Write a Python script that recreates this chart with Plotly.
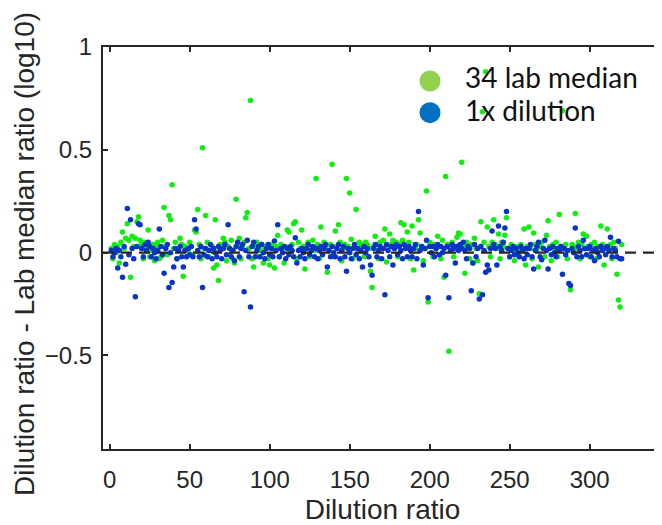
import plotly.graph_objects as go

# x positions (sample index)
x_idx = list(range(1, 321))

# 34 lab median series (green)
green_vals = [
    0.02, -0.03, 0.04, 0.0, 0.03, -0.05, 0.05, 0.10, 0.02, 0.07, 0.14, 0.06, -0.12, 0.08, 0.03, 0.07, 0.15, 0.175, 0.06, 0.04,
    -0.03, 0.05, 0.02, 0.11, -0.02, 0.01, 0.04, -0.04, 0.03, 0.05, -0.03, -0.02, 0.06, 0.22, 0.03, -0.01, 0.18, 0.16, 0.33, 0.02,
    0.05, -0.03, 0.01, 0.07, 0.04, -0.115, 0.03, -0.02, 0.01, 0.05, 0.03, -0.01, 0.11, 0.10, 0.21, 0.04, -0.03, 0.51, 0.02, 0.18,
    0.05, -0.02, 0.01, 0.03, -0.075, 0.16, -0.06, -0.135, 0.04, 0.02, 0.07, 0.05, -0.04, 0.03, -0.01, 0.06, -0.03, -0.05, 0.26, 0.04,
    0.07, -0.03, 0.02, 0.05, 0.17, 0.195, 0.02, 0.74, -0.03, -0.07, 0.03, 0.05, -0.02, 0.01, 0.04, -0.05, 0.02, 0.03, -0.03, -0.06,
    0.04, 0.02, -0.075, 0.03, 0.083, -0.02, 0.04, 0.02, -0.05, 0.03, 0.11, 0.10, 0.01, 0.04, 0.14, 0.15, -0.03, 0.05, 0.02, 0.11,
    0.03, -0.08, 0.02, 0.05, -0.02, 0.03, 0.06, 0.01, 0.36, 0.04, -0.03, 0.125, 0.02, 0.05, 0.03, -0.095, 0.01, 0.04, 0.43, -0.02,
    0.105, 0.03, 0.135, 0.05, -0.04, 0.02, 0.04, 0.36, 0.03, 0.29, 0.065, -0.03, 0.04, 0.21, 0.02, 0.05, 0.04, 0.03, -0.02, 0.05,
    0.04, 0.02, -0.09, -0.17, 0.03, 0.08, 0.04, -0.03, 0.05, 0.02, 0.06, 0.115, -0.045, 0.03, 0.09, 0.04, 0.06, 0.02, 0.05, -0.02,
    0.04, 0.145, 0.06, 0.135, 0.03, 0.10, 0.05, -0.03, 0.13, -0.085, 0.02, 0.04, 0.16, 0.095, 0.03, -0.04, 0.02, 0.30, -0.24, 0.05,
    0.03, -0.02, 0.04, 0.02, 0.08, 0.03, -0.03, 0.06, -0.12, 0.37, 0.04, -0.48, 0.02, 0.05, -0.02, 0.03, 0.075, 0.095, 0.09, 0.44,
    0.03, -0.10, 0.05, 0.02, -0.03, 0.04, -0.05, 0.07, 0.02, -0.04, -0.20, 0.15, 0.685, 0.05, 0.88, 0.125, 0.03, -0.02, 0.05, 0.16,
    0.04, 0.02, 0.09, -0.03, 0.05, 0.03, 0.085, 0.17, 0.02, -0.02, 0.04, 0.01, -0.04, 0.03, 0.02, -0.02, 0.04, 0.01, 0.115, -0.06,
    0.03, 0.125, 0.02, -0.03, 0.095, 0.04, 0.01, -0.07, 0.03, 0.05, 0.02, -0.02, 0.085, 0.155, 0.03, -0.04, 0.04, 0.02, 0.05, -0.02,
    0.185, 0.03, 0.69, 0.02, 0.04, -0.03, 0.01, -0.18, 0.04, 0.03, 0.19, 0.02, 0.05, -0.03, 0.04, 0.09, 0.02, 0.08, 0.03, -0.02,
    0.04, 0.02, 0.05, -0.03, 0.03, 0.01, 0.13, 0.04, -0.06, 0.03, 0.115, 0.02, 0.04, -0.03, 0.05, 0.02, -0.105, -0.23, -0.265, 0.04,
]

# 1x dilution series (blue)
blue_vals = [
    0.01, -0.02, 0.0, 0.02, -0.075, 0.01, -0.02, -0.12, 0.03, -0.057, 0.215, -0.01, 0.16, 0.02, -0.03, -0.215, 0.03, 0.14, 0.135, 0.02,
    -0.02, 0.04, 0.01, 0.05, 0.03, -0.02, 0.02, 0.0, -0.03, 0.01, 0.115, 0.03, -0.01, -0.10, 0.02, 0.04, -0.17, 0.0, -0.145, -0.07,
    0.02, -0.03, 0.01, 0.03, -0.02, -0.07, 0.01, -0.02, 0.02, -0.01, 0.03, -0.02, 0.16, 0.115, 0.01, -0.02, 0.03, -0.17, -0.01, 0.02,
    -0.02, 0.01, 0.04, -0.03, 0.02, 0.0, -0.02, 0.03, 0.01, -0.03, 0.02, 0.04, -0.01, 0.135, 0.02, -0.02, 0.01, -0.04, 0.03, 0.05,
    -0.02, 0.02, 0.04, -0.19, 0.01, 0.06, -0.02, -0.265, 0.03, 0.05, -0.02, 0.01, 0.03, -0.02, 0.04, 0.0, -0.03, 0.02, 0.04, -0.01,
    0.02, -0.02, 0.057, 0.01, 0.135, -0.02, 0.02, 0.0, 0.03, -0.03, 0.02, -0.01, 0.03, 0.01, -0.02, 0.072, -0.05, 0.01, -0.02, 0.02,
    0.0, -0.03, 0.02, 0.04, -0.01, 0.01, 0.03, -0.02, 0.02, -0.03, 0.01, 0.03, -0.01, 0.02, 0.04, -0.07, 0.01, -0.02, 0.03, 0.0,
    -0.02, 0.02, 0.04, -0.03, 0.01, 0.03, -0.02, -0.09, 0.02, 0.0, -0.03, 0.02, 0.04, -0.01, 0.02, -0.03, 0.01, -0.07, 0.03, 0.0,
    0.02, -0.02, -0.06, -0.11, 0.02, 0.04, -0.02, 0.01, 0.03, -0.03, 0.02, -0.205, 0.04, 0.01, -0.02, 0.03, -0.06, 0.02, 0.04, -0.01,
    0.03, 0.01, -0.03, 0.04, 0.02, -0.02, 0.03, 0.01, -0.02, 0.02, 0.04, -0.03, 0.20, 0.01, 0.03, -0.06, 0.02, 0.06, -0.22, 0.03,
    0.0, 0.03, -0.02, 0.02, 0.04, -0.01, 0.03, 0.0, 0.02, -0.11, 0.03, -0.22, 0.01, 0.04, 0.02, -0.05, 0.03, 0.01, 0.04, 0.02,
    0.05, 0.01, -0.03, 0.03, 0.02, -0.185, -0.05, 0.04, -0.02, 0.02, -0.225, 0.03, -0.205, 0.01, -0.095, -0.06, -0.085, 0.02, 0.105, 0.04,
    0.02, -0.06, 0.13, 0.03, 0.01, 0.05, 0.12, 0.20, 0.02, -0.02, 0.01, 0.03, -0.01, 0.02, 0.0, -0.02, 0.03, 0.01, -0.03, 0.02,
    -0.01, 0.02, 0.04, -0.02, -0.08, 0.01, 0.03, 0.05, -0.02, -0.035, 0.02, 0.06, 0.01, -0.08, 0.02, -0.01, 0.03, 0.0, -0.02, 0.02,
    0.01, 0.03, -0.105, 0.02, -0.01, 0.01, -0.15, -0.16, 0.02, 0.0, 0.12, -0.02, 0.03, 0.01, -0.02, 0.06, 0.02, -0.01, 0.02, 0.03,
    -0.02, 0.01, -0.04, 0.02, 0.0, -0.02, 0.03, 0.01, 0.02, -0.01, 0.03, 0.01, 0.075, -0.02, 0.02, 0.01, -0.02, 0.055, -0.03, -0.03,
]

x_ticks = [0, 50, 100, 150, 200, 250, 300]
y_ticks = [-0.5, 0, 0.5, 1]
y_ticktext = ["\u22120.5", "0", "0.5", "1"]
legend_labels = ["34 lab median", "1x dilution"]
x_title = "Dilution ratio"
y_title = "Dilution ratio - Lab median ratio (log10)"

# page body has an 8px default margin; lay the figure out in page pixels minus that offset
OFF = 8
W, H = 662 - OFF, 525 - OFF
PL, PT, PR, PB = 103, 47, 662, 449          # plot box in page pixels
L, T = PL - OFF, PT - OFF
R, B = W - (PR - OFF), H - (PB - OFF)
pw, ph = W - L - R, H - T - B

def px_x(px):
    return (px - OFF - L) / pw

def px_y(py):
    return (H - B - (py - OFF)) / ph

AX = "#262626"
FONT = "Liberation Sans, Arial, sans-serif"

fig = go.Figure()
fig.add_trace(go.Scatter(x=x_idx, y=green_vals, mode="markers", name=legend_labels[0],
                         marker=dict(size=5.5, color="#10ee10", line=dict(width=0)), showlegend=False))
fig.add_trace(go.Scatter(x=x_idx, y=blue_vals, mode="markers", name=legend_labels[1],
                         marker=dict(size=5.5, color="#0a34c8", line=dict(width=0)), showlegend=False))

shapes = [
    dict(type="line", xref="paper", yref="y", x0=0, x1=1, y0=0, y1=0,
         line=dict(color=AX, width=2.2, dash="11px,7px"), layer="above"),
]
legend_colors = ["#92d050", "#0070c0"]
legend_y = [81, 112.7]
for c, yy in zip(legend_colors, legend_y):
    shapes.append(dict(type="circle", xref="paper", yref="paper",
                       xsizemode="pixel", ysizemode="pixel",
                       xanchor=px_x(430), yanchor=px_y(yy),
                       x0=-10.5, x1=10.5, y0=-10.5, y1=10.5,
                       fillcolor=c, line=dict(width=0)))

annotations = []
for lab, yy in zip(legend_labels, [77, 110]):
    annotations.append(dict(text=lab, xref="paper", yref="paper", x=px_x(463), y=px_y(yy),
                            xanchor="left", yanchor="middle", showarrow=False,
                            font=dict(family="Lato, Liberation Sans, sans-serif", size=28, color="#111111")))
# y-axis title as a rotated annotation so it can sit exactly where the reference has it
annotations.append(dict(text=y_title, xref="paper", yref="paper", x=px_x(24), y=px_y(254),
                        xanchor="center", yanchor="middle", textangle=-90, showarrow=False,
                        font=dict(family=FONT, size=28, color=AX)))

fig.update_layout(
    width=W, height=H,
    margin=dict(l=L, r=R, t=T, b=B, pad=0, autoexpand=False),
    paper_bgcolor="white", plot_bgcolor="white",
    shapes=shapes, annotations=annotations,
    font=dict(family=FONT, color=AX),
    xaxis=dict(range=[-4.2, 345.2], tickvals=x_ticks, ticks="inside", ticklen=5, tickwidth=1.5,
               tickcolor=AX, showline=True, linewidth=2, linecolor=AX, mirror="ticks",
               showgrid=False, zeroline=False, ticklabelstandoff=8,
               tickfont=dict(family=FONT, size=24, color=AX),
               title=dict(text=x_title, font=dict(family=FONT, size=28, color=AX), standoff=10)),
    yaxis=dict(range=[-0.955, 1.0], tickvals=y_ticks, ticktext=y_ticktext, ticks="inside", ticklen=5,
               tickwidth=1.5, tickcolor=AX, showline=True, linewidth=2, linecolor=AX, mirror=False,
               showgrid=False, zeroline=False, ticklabelstandoff=4,
               tickfont=dict(family=FONT, size=24, color=AX)),
)

fig.write_html("out.html")
